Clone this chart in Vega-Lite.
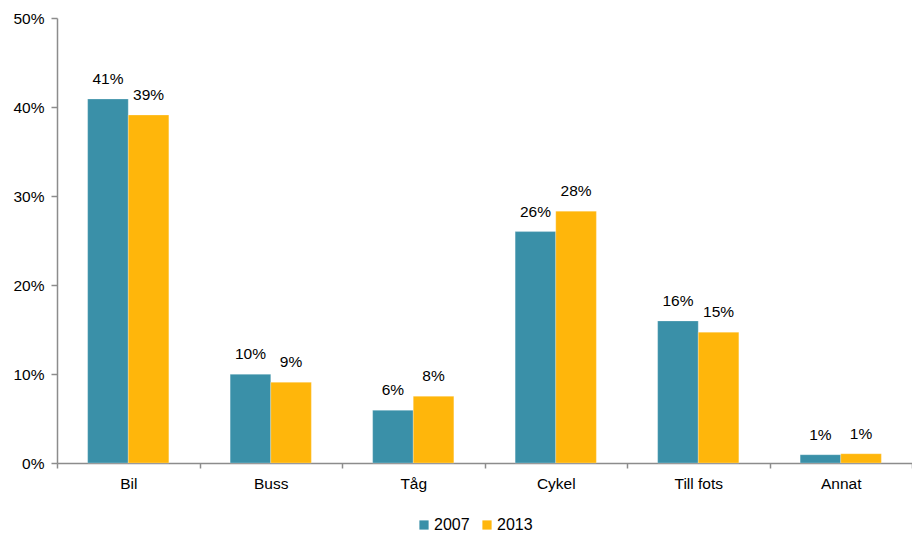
{
  "$schema": "https://vega.github.io/schema/vega-lite/v6.json",
  "width": 855,
  "height": 445,
  "autosize": {"type": "none"},
  "padding": {"left": 57, "top": 18, "right": 0, "bottom": 71},
  "background": "white",
  "config": {
    "view": {"stroke": null},
    "font": "Liberation Sans",
    "axis": {"labelFont": "Liberation Sans", "labelFontSize": 15.5, "labelColor": "#000000", "domainColor": "#8c8c8c", "tickColor": "#8c8c8c", "domainWidth": 1.5, "tickWidth": 1.5, "grid": false, "title": null, "labelOverlap": false, "labelFlush": false}
  },
  "data": {
    "values": [
      {"mode": "Bil", "year": "2007", "value": 0.409, "label": "41%"},
      {"mode": "Bil", "year": "2013", "value": 0.391, "label": "39%"},
      {"mode": "Buss", "year": "2007", "value": 0.0997, "label": "10%"},
      {"mode": "Buss", "year": "2013", "value": 0.0907, "label": "9%"},
      {"mode": "Tåg", "year": "2007", "value": 0.0592, "label": "6%"},
      {"mode": "Tåg", "year": "2013", "value": 0.075, "label": "8%"},
      {"mode": "Cykel", "year": "2007", "value": 0.26, "label": "26%"},
      {"mode": "Cykel", "year": "2013", "value": 0.283, "label": "28%"},
      {"mode": "Till fots", "year": "2007", "value": 0.1596, "label": "16%"},
      {"mode": "Till fots", "year": "2013", "value": 0.147, "label": "15%"},
      {"mode": "Annat", "year": "2007", "value": 0.0093, "label": "1%"},
      {"mode": "Annat", "year": "2013", "value": 0.0104, "label": "1%"}
    ]
  },
  "encoding": {
    "x": {
      "field": "mode", "type": "nominal", "sort": null,
      "scale": {"paddingInner": 0, "paddingOuter": 0},
      "axis": {"labelAngle": 0, "tickBand": "extent", "tickSize": 5, "labelPadding": 8}
    },
    "xOffset": {"field": "year", "type": "nominal", "scale": {"paddingInner": 0, "paddingOuter": 0.755}},
    "y": {
      "field": "value", "type": "quantitative",
      "scale": {"domain": [0, 0.5], "nice": false},
      "axis": {"format": ".0%", "values": [0, 0.1, 0.2, 0.3, 0.4, 0.5], "tickSize": 6, "labelPadding": 7}
    }
  },
  "layer": [
    {
      "mark": {"type": "bar", "stroke": "white", "strokeWidth": 0.5, "strokeOpacity": 0.5},
      "encoding": {
        "color": {
          "field": "year", "type": "nominal",
          "scale": {"domain": ["2007", "2013"], "range": ["#3A90A8", "#FFB60B"]},
          "legend": {"orient": "none", "legendX": 359, "legendY": 499, "direction": "horizontal", "title": null, "symbolType": "square", "symbolSize": 85, "symbolStrokeWidth": 0, "labelFontSize": 16, "labelFont": "Liberation Sans", "labelColor": "#000000", "columnPadding": 9, "labelOffset": 2, "padding": 0}
        }
      }
    },
    {
      "mark": {"type": "text", "baseline": "alphabetic", "dy": -15, "fontSize": 15.5, "font": "Liberation Sans", "color": "#000000"},
      "encoding": {"text": {"field": "label"}}
    }
  ]
}
